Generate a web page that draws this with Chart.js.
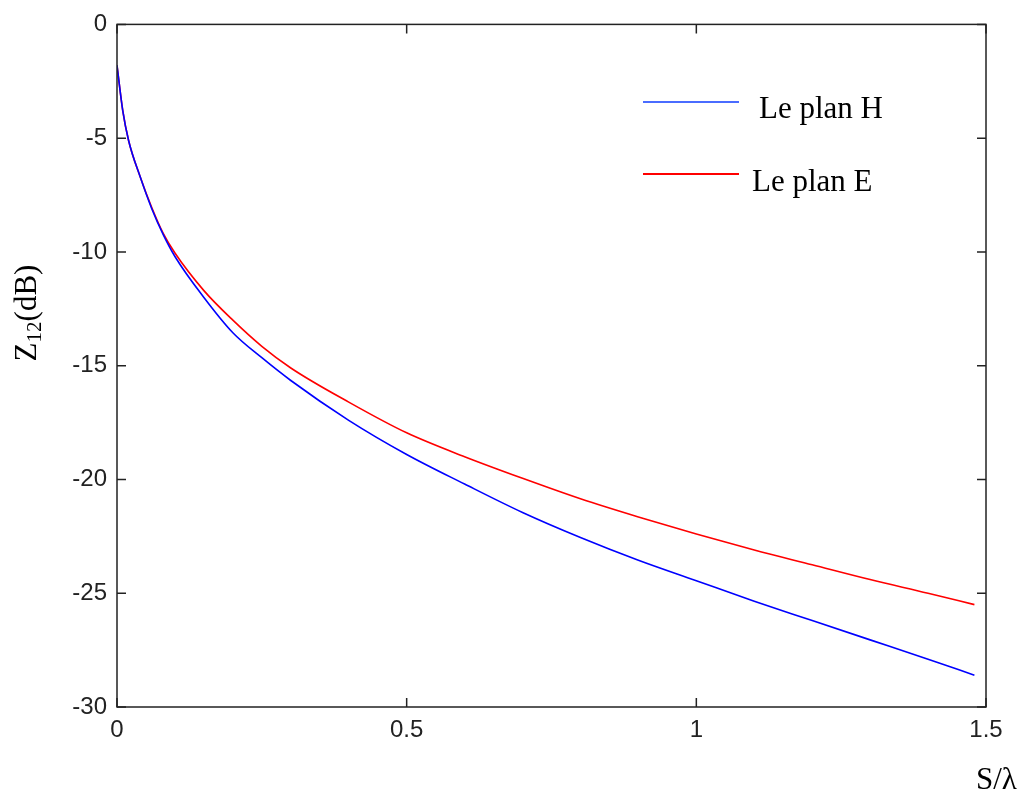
<!DOCTYPE html>
<html>
<head>
<meta charset="utf-8">
<script src="https://cdn.jsdelivr.net/npm/chart.js@4/dist/chart.umd.min.js"></script>
<style>
  html, body { margin: 0; padding: 0; background: #fff; }
  canvas { display: block; }
</style>
</head>
<body>
<canvas id="chart" width="1018" height="793"></canvas>
<script>
// S/lambda sample positions and the two curves
const sLambda = [0, 0.01, 0.02, 0.04, 0.06, 0.08, 0.1, 0.15, 0.2, 0.25, 0.3, 0.4, 0.5, 0.6, 0.7, 0.8, 0.9, 1.0, 1.1, 1.2, 1.3, 1.4, 1.48];
const planH = [-1.8, -3.8, -5.1, -6.7, -8.1, -9.25, -10.2, -12.0, -13.55, -14.65, -15.65, -17.4, -18.9, -20.2, -21.45, -22.55, -23.55, -24.45, -25.35, -26.2, -27.05, -27.9, -28.6];
const planE = [-1.8, -3.8, -5.1, -6.7, -8.05, -9.2, -10.05, -11.7, -13.0, -14.15, -15.1, -16.6, -17.95, -19.0, -19.95, -20.85, -21.65, -22.4, -23.1, -23.75, -24.4, -25.0, -25.5];
const xTicks = [0, 0.5, 1, 1.5];
const yTicks = [0, -5, -10, -15, -20, -25, -30];
const seriesNames = [' Le plan H', 'Le plan E'];

const tickFont = { family: 'Liberation Sans, Arial, sans-serif', size: 24 };
const serif = 'Liberation Serif, Times New Roman, serif';
const ink = '#222';

function toPoints(ys) {
    return sLambda.map((x, i) => ({ x: x, y: ys[i] }));
}

// frame, inward ticks, legend and axis titles in MATLAB style
const matlabDecor = {
    id: 'matlabDecor',
    afterDraw(chart) {
        const ctx = chart.ctx;
        const a = chart.chartArea;
        const xs = chart.scales.x, ys = chart.scales.y;
        const tl = 9;
        ctx.save();
        ctx.strokeStyle = ink;
        ctx.lineWidth = 1.5;
        ctx.strokeRect(a.left, a.top, a.right - a.left, a.bottom - a.top);
        ctx.beginPath();
        xTicks.forEach(v => {
            const px = xs.getPixelForValue(v);
            ctx.moveTo(px, a.bottom); ctx.lineTo(px, a.bottom - tl);
            ctx.moveTo(px, a.top); ctx.lineTo(px, a.top + tl);
        });
        yTicks.forEach(v => {
            const py = ys.getPixelForValue(v);
            ctx.moveTo(a.left, py); ctx.lineTo(a.left + tl, py);
            ctx.moveTo(a.right, py); ctx.lineTo(a.right - tl, py);
        });
        ctx.stroke();

        // legend
        const ds = chart.data.datasets;
        const rows = [{ y: 102, tx: 759, base: 118, color: '#4a6cff' }, { y: 174, tx: 752, base: 191, color: ds[1].borderColor }];
        ctx.font = '31px ' + serif;
        ctx.fillStyle = '#000';
        ctx.textBaseline = 'alphabetic';
        rows.forEach((r, i) => {
            ctx.strokeStyle = r.color;
            ctx.lineWidth = 2;
            ctx.beginPath();
            ctx.moveTo(643, r.y); ctx.lineTo(739, r.y);
            ctx.stroke();
            ctx.fillText(seriesNames[i].trim(), r.tx, r.base);
        });

        // y title with subscript
        ctx.save();
        ctx.translate(36, 313);
        ctx.rotate(-Math.PI / 2);
        const big = '31px ' + serif, small = '21px ' + serif;
        ctx.font = big; const wZ = ctx.measureText('Z').width;
        ctx.font = small; const w12 = ctx.measureText('12').width;
        ctx.font = big; const wR = ctx.measureText('(dB)').width;
        let x0 = -(wZ + w12 + wR) / 2;
        ctx.textBaseline = 'alphabetic';
        ctx.font = big; ctx.fillText('Z', x0, 0);
        ctx.font = small; ctx.fillText('12', x0 + wZ, 5);
        ctx.font = big; ctx.fillText('(dB)', x0 + wZ + w12, 0);
        ctx.restore();

        // x title
        ctx.font = '31px ' + serif;
        ctx.textBaseline = 'middle';
        ctx.fillText('S/\u03bb', 976, 781);
        ctx.restore();
    }
};

new Chart(document.getElementById('chart').getContext('2d'), {
    type: 'line',
    data: {
        datasets: [
            { label: seriesNames[0], data: toPoints(planH), borderColor: '#0000ff', borderWidth: 1.6 },
            { label: seriesNames[1], data: toPoints(planE), borderColor: '#ff0000', borderWidth: 1.6 }
        ]
    },
    options: {
        responsive: false,
        animation: false,
        layout: { padding: { top: 23, right: 32, left: 0, bottom: 0 } },
        elements: {
            point: { radius: 0 },
            line: { cubicInterpolationMode: 'monotone', fill: false }
        },
        plugins: { legend: { display: false }, tooltip: { enabled: false } },
        scales: {
            x: {
                type: 'linear', min: 0, max: 1.5,
                afterBuildTicks: s => { s.ticks = xTicks.map(v => ({ value: v })); },
                afterFit: s => { s.height = 86; },
                grid: { display: false, drawTicks: false },
                border: { display: false },
                ticks: { font: tickFont, color: ink, padding: 9, maxRotation: 0, callback: v => String(v) }
            },
            y: {
                min: -30, max: 0,
                afterBuildTicks: s => { s.ticks = yTicks.map(v => ({ value: v })); },
                afterFit: s => { s.width = 117; },
                grid: { display: false, drawTicks: false },
                border: { display: false },
                ticks: { font: tickFont, color: ink, padding: 10 }
            }
        }
    },
    plugins: [matlabDecor]
});
</script>
</body>
</html>
